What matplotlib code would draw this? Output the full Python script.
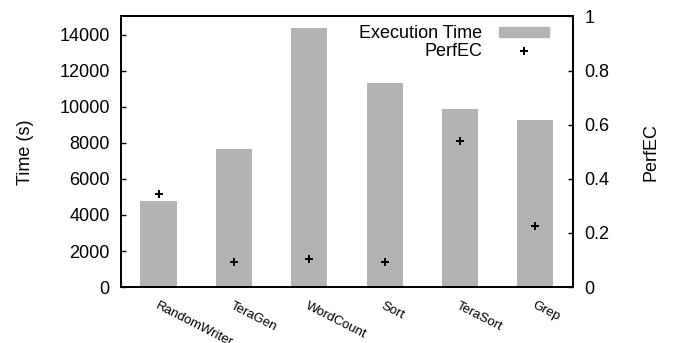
import matplotlib
matplotlib.use("Agg")
import matplotlib.pyplot as plt
from matplotlib.patches import Rectangle
from matplotlib.lines import Line2D

plt.rcParams['font.family'] = ['Liberation Sans', 'DejaVu Sans']

benchmarks = ["RandomWriter", "TeraGen", "WordCount", "Sort", "TeraSort", "Grep"]
exec_time = [4750, 7650, 14380, 11320, 9880, 9270]
perfec = [0.344, 0.094, 0.104, 0.093, 0.541, 0.227]
time_ticks = [0, 2000, 4000, 6000, 8000, 10000, 12000, 14000]
perfec_ticks = [0, 0.2, 0.4, 0.6, 0.8, 1]
perfec_tick_labels = ["0", "0.2", "0.4", "0.6", "0.8", "1"]

fig = plt.figure(figsize=(6.83, 3.43), dpi=100)
ax = fig.add_axes([0.177, 0.163, 0.662, 0.789])
ax2 = ax.twinx()

x = list(range(len(benchmarks)))
bar_color = "#b3b3b3"
ax.bar(x, exec_time, width=0.48, color=bar_color, zorder=2)
ax2.plot(x, perfec, linestyle="none", marker="P", markersize=6,
         color="black", markeredgewidth=0, zorder=3)

ax.set_xlim(-0.5, 5.5)
ax.set_ylim(0, 15000)
ax2.set_ylim(0, 1)

ax.set_yticks(time_ticks)
ax.set_yticklabels([str(t) for t in time_ticks], fontsize=13)
ax2.set_yticks(perfec_ticks)
ax2.set_yticklabels(perfec_tick_labels, fontsize=13)

ax.set_xticks(x)
ax.set_xticklabels(benchmarks, rotation=-27, ha="left", va="top",
                   rotation_mode="anchor", fontsize=9.5)
ax.tick_params(axis="x", length=0, pad=9)
ax.tick_params(axis="y", direction="in", length=3.5, width=1, pad=8)
ax2.tick_params(axis="y", direction="in", length=3.5, width=1, pad=8)

for a in (ax, ax2):
    for s in a.spines.values():
        s.set_linewidth(1.3)

ax.set_ylabel("Time (s)", fontsize=13, labelpad=18)
ax2.set_ylabel("PerfEC", fontsize=13, labelpad=24)

# gnuplot-style key: right-aligned text followed by sample
handles = [Rectangle((0, 0), 1, 1, color=bar_color),
           Line2D([], [], linestyle="none", marker="P", markersize=6,
                  color="black", markeredgewidth=0)]
leg = ax2.legend(handles, ["Execution Time", "PerfEC"], loc="upper right",
                 bbox_to_anchor=(0.947, 0.967),
                 frameon=False, fontsize=13, markerfirst=False,
                 handlelength=2.8, handleheight=0.45, handletextpad=0.9,
                 labelspacing=0.05, borderaxespad=0, borderpad=0)
for t in leg.get_texts():
    t.set_ha("right")

fig.savefig("out.png", dpi=100)
